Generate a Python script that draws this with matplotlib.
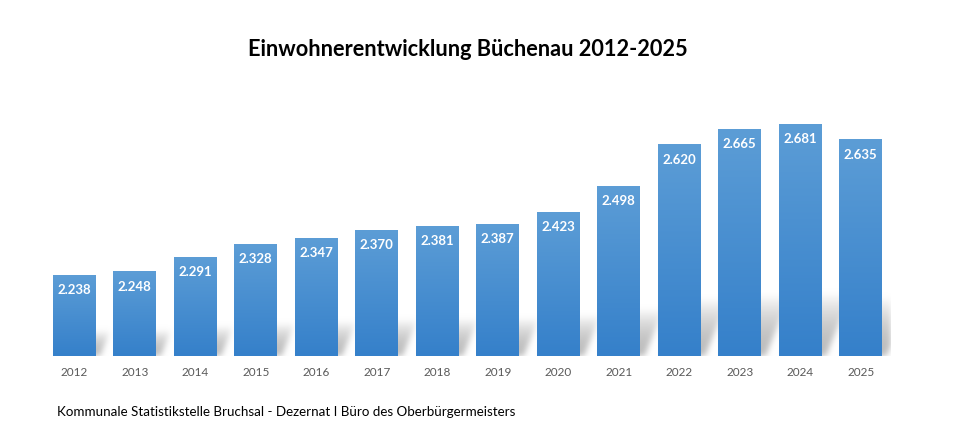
import numpy as np
import matplotlib
matplotlib.use("Agg")
import matplotlib.pyplot as plt
from matplotlib.colors import LinearSegmentedColormap

plt.rcParams['font.family'] = ['Lato', 'DejaVu Sans']

years = ['2012', '2013', '2014', '2015', '2016', '2017', '2018',
         '2019', '2020', '2021', '2022', '2023', '2024', '2025']
einwohner = [2238, 2248, 2291, 2328, 2347, 2370, 2381,
             2387, 2423, 2498, 2620, 2665, 2681, 2635]

title = 'Einwohnerentwicklung Büchenau 2012-2025'
quelle = 'Kommunale Statistikstelle Bruchsal - Dezernat I Büro des Oberbürgermeisters'

W, H = 979, 437
fig = plt.figure(figsize=(W / 100, H / 100), dpi=100)
ax = fig.add_axes([44 / W, 81 / H, 847 / W, 273 / H])
ax.set_xlim(-0.5, len(years) - 0.5)
ax.set_ylim(2000, 2800)

x = np.arange(len(years))
bw = 0.71
grad = LinearSegmentedColormap.from_list('bar', ['#3580ca', '#5c9dd6'])

# blurred gray shadow behind the bars, its height follows the bar height
nx, ny = 847, 80
ppy = 273 / 800
PX, PY = np.meshgrid(np.arange(nx), np.arange(ny))
ppu = nx / len(years)
shadow = np.zeros((ny, nx))
for xi, v in zip(x, einwohner):
    hs = 0.25 * (v - 2000) * ppy + 5
    left = (xi - bw / 2 + 0.5) * ppu + 4
    right = (xi + bw / 2 + 0.5) * ppu + 4
    sx = PX - 0.4 * PY
    m = (sx >= left) & (sx <= right) & (PY < hs)
    shadow[m] = np.maximum(shadow[m], 1 - (PY[m] / hs) ** 2)
k = np.exp(-0.5 * (np.arange(-10, 11) / 3.0) ** 2)
k /= k.sum()
shadow = np.apply_along_axis(lambda r: np.convolve(r, k, mode='same'), 1, shadow)
shadow = np.apply_along_axis(lambda c: np.convolve(c, k, mode='same'), 0, shadow)
rgba = np.zeros((ny, nx, 4))
rgba[..., :3] = 0.74
rgba[..., 3] = np.clip(1.0 * shadow, 0, 1)
ax.imshow(rgba, extent=(-0.5, len(years) - 0.5, 2000, 2000 + ny / ppy),
          origin='lower', aspect='auto', zorder=1, interpolation='bilinear')

bars = ax.bar(x, [v - 2000 for v in einwohner], bottom=2000, width=bw,
              color='none', edgecolor='none', zorder=2)
g = np.linspace(0, 1, 100).reshape(-1, 1)
for b in bars:
    bx, by = b.get_x(), b.get_y()
    im = ax.imshow(g, cmap=grad, origin='lower', aspect='auto', zorder=2,
                   extent=(bx, bx + b.get_width(), by, by + b.get_height()))
    im.set_clip_path(b)

for xi, v in zip(x, einwohner):
    ax.annotate(f'{v:,}'.replace(',', '.'), (xi, v), xytext=(0, -11),
                textcoords='offset points', ha='center', va='center',
                color='white', fontsize=9.5, fontweight='bold', zorder=3)

ax.set_xticks(x)
ax.set_xticklabels(years, color='#595959', fontsize=8.5)
ax.tick_params(length=0, pad=8)
ax.set_yticks([])
for s in ax.spines.values():
    s.set_visible(False)
ax.set_ylim(2000, 2800)

fig.text(468 / W, 1 - 50 / H, title, ha='center', va='center',
         fontsize=15.7, fontweight='bold', color='black')
fig.text(57 / W, 1 - 412 / H, quelle, ha='left', va='center',
         fontsize=9.6, color='black')

fig.savefig('out.png', dpi=100)
